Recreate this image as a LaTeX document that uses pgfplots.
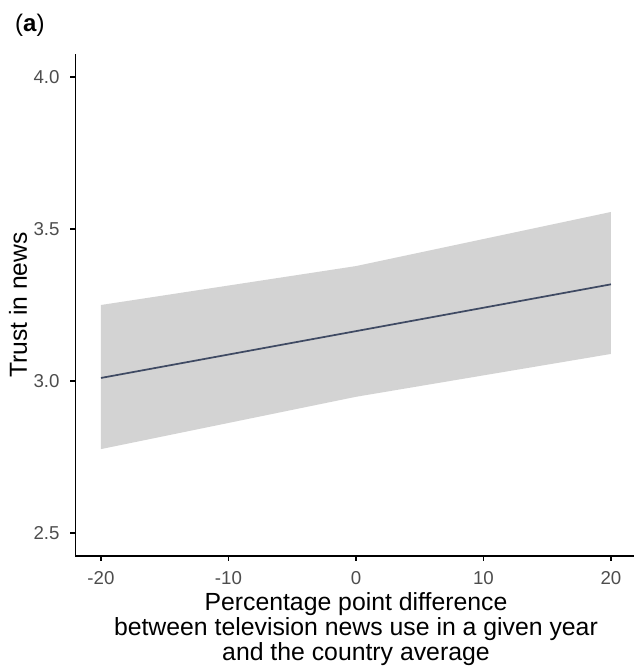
\documentclass[border=0pt]{standalone}
\usepackage{fontspec}
\setmainfont{Liberation Sans}
\usepackage{pgfplots}
\pgfplotsset{compat=1.18}
\definecolor{band}{HTML}{D3D3D3}
\definecolor{fitline}{HTML}{3F4A63}
\definecolor{ticktxt}{HTML}{4D4D4D}
\begin{document}
\begin{tikzpicture}
\begin{axis}[
  at={(0,0)}, anchor=south west,
  scale only axis, width=420.75pt, height=376.2pt,
  xmin=-22, xmax=22, ymin=2.425, ymax=4.075,
  axis x line*=bottom, axis y line*=left,
  clip=false,
  xtick={-20,-10,0,10,20}, xticklabels={-20,-10,0,10,20},
  ytick={2.5,3,3.5,4}, yticklabels={2.5,3.0,3.5,4.0},
  tick align=outside, major tick length=3.75pt,
  tick style={black, line width=1.0pt},
  axis line style={black, line width=1.2pt},
  ticklabel style={font=\fontsize{14}{16}\selectfont, text=ticktxt, inner sep=0pt},
  xticklabel style={anchor=north, yshift=-8.0pt},
  yticklabel style={anchor=east, xshift=-8.0pt},
  ylabel={Trust in news},
  ylabel style={at={(axis description cs:-0.1025,0.5)}, anchor=center, rotate=0, inner sep=0pt, font=\fontsize{18.5}{20}\selectfont},
  xlabel={Percentage point difference\\between television news use in a given year\\and the country average},
  xlabel style={at={(axis description cs:0.5,-0.073)}, anchor=north, inner sep=0pt, align=center, font=\fontsize{18.6}{18.75}\selectfont},
]
\addplot[fill=band, draw=none] coordinates {(-20,3.250) (0,3.378) (20,3.556) (20,3.089) (0,2.948) (-20,2.776)} -- cycle;
\addplot[fitline, line width=1.3pt] coordinates {(-20,3.010) (0,3.164) (20,3.318)};
\node[anchor=base west, inner sep=0pt, font=\fontsize{18}{20}\selectfont, xshift=-45.4pt, yshift=17.25pt] at (rel axis cs:0,1) {(\textbf{a})};
\end{axis}
\pgfresetboundingbox
\path[use as bounding box] (-56.6pt,-83.4pt) rectangle (418.9pt,416.85pt);
\end{tikzpicture}
\end{document}
